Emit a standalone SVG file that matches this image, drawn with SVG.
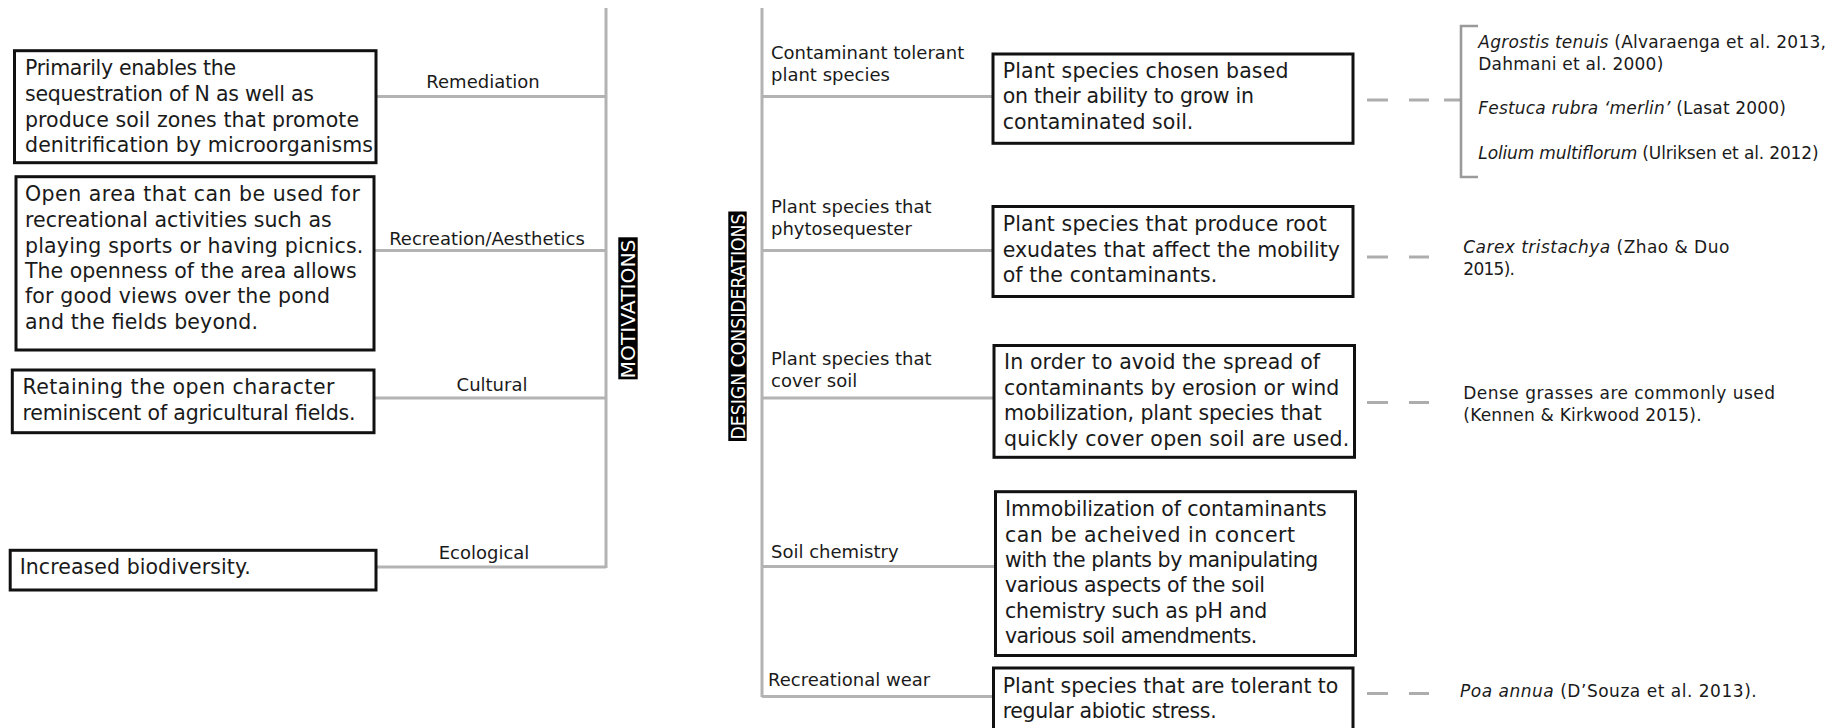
<svg xmlns="http://www.w3.org/2000/svg" width="1847" height="728" viewBox="0 0 1847 728">
<style>
text{font-family:"DejaVu Sans","Liberation Sans",sans-serif;fill:#1a1a1a}
.box{fill:#fff;stroke:#111;stroke-width:3}
.bt{font-size:20.5px}
.lbl{font-size:18px}
.ref{font-size:17px}
.it{font-style:italic}
.br{stroke:#b3b3b3;stroke-width:3;fill:none}
.dash{stroke:#adadad;stroke-width:3;fill:none}
.brace{stroke:#9a9a9a;stroke-width:2.6;fill:none}
.vl{fill:#000}
.vt{fill:#fff;font-size:19px}
</style>
<rect width="1847" height="728" fill="#fff"/>
<g id="connectors">
<path class="br" d="M606 8V568M376 96.5H606M374 250.5H606M374 398H606M376 567H606"/>
<path class="br" d="M762 8V697M762 96.5H993M762 250.5H993M762 398H994M762 566.5H995.5M762 696.5H993.5"/>
<path class="dash" d="M1367 100H1388M1409 100H1429M1444 100H1461"/>
<path class="brace" d="M1478 26H1461V177H1478"/>
<path class="dash" d="M1367 257H1388M1409 257H1429"/>
<path class="dash" d="M1367 402.5H1388M1409 402.5H1429"/>
<path class="dash" d="M1367 693.5H1388M1409 693.5H1429"/>
</g>
<g id="motivations-title">
<rect class="vl" x="618.3" y="237.3" width="19.4" height="142"/>
<text class="vt" transform="translate(635,309) rotate(-90)" text-anchor="middle" textLength="139" lengthAdjust="spacingAndGlyphs">MOTIVATIONS</text>
</g>
<g id="design-title">
<rect class="vl" x="728.3" y="211.5" width="18.4" height="229.5"/>
<text class="vt" transform="translate(745,326.5) rotate(-90)" text-anchor="middle" textLength="226" lengthAdjust="spacingAndGlyphs">DESIGN CONSIDERATIONS</text>
</g>
<g id="remediation">
<text class="lbl" x="483" y="88.3" text-anchor="middle">Remediation</text>
<rect class="box" x="14.5" y="50.7" width="361.5" height="112"/>
<text class="bt" x="25" y="75" textLength="211">Primarily enables the</text>
<text class="bt" x="25" y="100.7" textLength="289">sequestration of N as well as</text>
<text class="bt" x="25" y="126.5" textLength="334">produce soil zones that promote</text>
<text class="bt" x="25" y="152.2" textLength="348">denitrification by microorganisms</text>
</g>
<g id="recreation">
<text class="lbl" x="487" y="245" text-anchor="middle">Recreation/Aesthetics</text>
<rect class="box" x="16" y="176.7" width="358" height="173.3"/>
<text class="bt" x="25" y="201" textLength="335">Open area that can be used for</text>
<text class="bt" x="25" y="226.7" textLength="306.7">recreational activities such as</text>
<text class="bt" x="25" y="252.5" textLength="338.3">playing sports or having picnics.</text>
<text class="bt" x="25" y="277.9" textLength="331.7">The openness of the area allows</text>
<text class="bt" x="25" y="303.4" textLength="305">for good views over the pond</text>
<text class="bt" x="25" y="329" textLength="233">and the fields beyond.</text>
</g>
<g id="cultural">
<text class="lbl" x="492" y="390.7" text-anchor="middle">Cultural</text>
<rect class="box" x="12.3" y="370" width="361.7" height="62.7"/>
<text class="bt" x="22.5" y="394.3" textLength="312">Retaining the open character</text>
<text class="bt" x="22.5" y="420" textLength="333">reminiscent of agricultural fields.</text>
</g>
<g id="ecological">
<text class="lbl" x="484" y="559" text-anchor="middle">Ecological</text>
<rect class="box" x="10.2" y="550.3" width="365.8" height="39.7"/>
<text class="bt" x="19.7" y="574.3" textLength="231">Increased biodiversity.</text>
</g>
<g id="contaminant-tolerant">
<text class="lbl" x="771" y="59.3">Contaminant tolerant</text>
<text class="lbl" x="771" y="81">plant species</text>
<rect class="box" x="993" y="54" width="360" height="89.3"/>
<text class="bt" x="1002.7" y="77.7" textLength="285.7">Plant species chosen based</text>
<text class="bt" x="1002.7" y="103.3" textLength="251.3">on their ability to grow in</text>
<text class="bt" x="1002.7" y="128.5" textLength="190.7">contaminated soil.</text>
<text class="ref" x="1478.3" y="47.7" textLength="347.7"><tspan class="it">Agrostis tenuis</tspan> (Alvaraenga et al. 2013,</text>
<text class="ref" x="1478.3" y="70" textLength="185">Dahmani et al. 2000)</text>
<text class="ref" x="1478.3" y="114.3" textLength="307.7"><tspan class="it">Festuca rubra ‘merlin’</tspan> (Lasat 2000)</text>
<text class="ref" x="1478.3" y="159" textLength="340.3"><tspan class="it">Lolium multiflorum</tspan> (Ulriksen et al. 2012)</text>
</g>
<g id="phytosequester">
<text class="lbl" x="771" y="213.3">Plant species that</text>
<text class="lbl" x="771" y="234.5">phytosequester</text>
<rect class="box" x="993" y="206.5" width="360" height="90"/>
<text class="bt" x="1002.7" y="231" textLength="324">Plant species that produce root</text>
<text class="bt" x="1002.7" y="256.5" textLength="337.3">exudates that affect the mobility</text>
<text class="bt" x="1002.7" y="281.5" textLength="214.7">of the contaminants.</text>
<text class="ref" x="1463.3" y="253.3" textLength="266"><tspan class="it">Carex tristachya</tspan> (Zhao &amp; Duo</text>
<text class="ref" x="1463.3" y="275" textLength="51.7">2015).</text>
</g>
<g id="cover-soil">
<text class="lbl" x="771" y="365">Plant species that</text>
<text class="lbl" x="771" y="386.7">cover soil</text>
<rect class="box" x="994" y="345.5" width="360.5" height="111.8"/>
<text class="bt" x="1004" y="369" textLength="316">In order to avoid the spread of</text>
<text class="bt" x="1004" y="394.5" textLength="335.3">contaminants by erosion or wind</text>
<text class="bt" x="1004" y="420.3" textLength="317.7">mobilization, plant species that</text>
<text class="bt" x="1004" y="446" textLength="345.3">quickly cover open soil are used.</text>
<text class="ref" x="1463.3" y="399" textLength="311.7">Dense grasses are commonly used</text>
<text class="ref" x="1463.3" y="420.7" textLength="238.3">(Kennen &amp; Kirkwood 2015).</text>
</g>
<g id="soil-chemistry">
<text class="lbl" x="771" y="558.3">Soil chemistry</text>
<rect class="box" x="995.5" y="491.7" width="360" height="163.8"/>
<text class="bt" x="1005" y="516" textLength="321.7">Immobilization of contaminants</text>
<text class="bt" x="1005" y="541.5" textLength="290">can be acheived in concert</text>
<text class="bt" x="1005" y="566.9" textLength="313.3">with the plants by manipulating</text>
<text class="bt" x="1005" y="592.3" textLength="260">various aspects of the soil</text>
<text class="bt" x="1005" y="617.8" textLength="262.3">chemistry such as pH and</text>
<text class="bt" x="1005" y="643.3" textLength="252.3">various soil amendments.</text>
</g>
<g id="recreational-wear">
<text class="lbl" x="768" y="686">Recreational wear</text>
<rect class="box" x="993.5" y="668" width="359.5" height="80"/>
<text class="bt" x="1002.7" y="692.5" textLength="335.7">Plant species that are tolerant to</text>
<text class="bt" x="1002.7" y="718" textLength="214">regular abiotic stress.</text>
<text class="ref" x="1460" y="697.3" textLength="296.7"><tspan class="it">Poa annua</tspan> (D’Souza et al. 2013).</text>
</g>
</svg>
